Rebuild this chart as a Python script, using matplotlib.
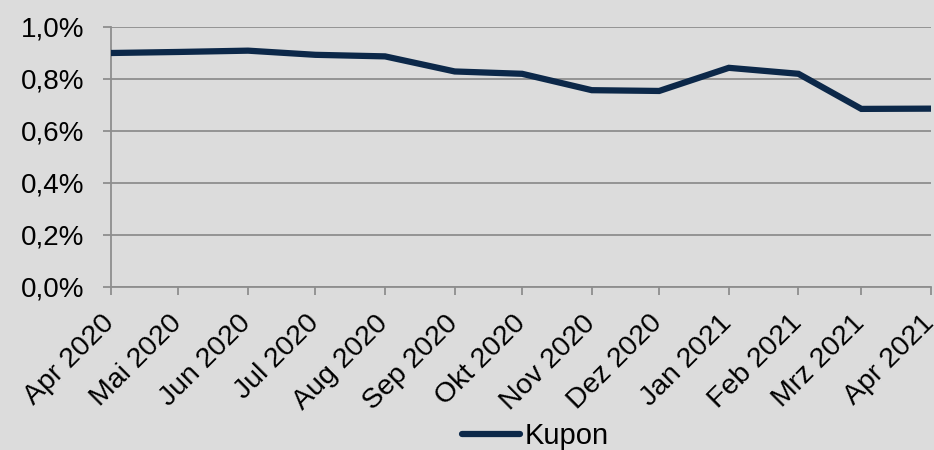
import matplotlib
matplotlib.use("Agg")
import matplotlib.pyplot as plt
import matplotlib.transforms as mtransforms
from matplotlib.ticker import FuncFormatter
import pandas as pd

# Monatswerte (Kupon in %)
months = ["2020-04-01", "2020-05-01", "2020-06-01", "2020-07-01", "2020-08-01",
          "2020-09-01", "2020-10-01", "2020-11-01", "2020-12-01", "2021-01-01",
          "2021-02-01", "2021-03-01", "2021-04-01"]
tick_labels = ["Apr 2020", "Mai 2020", "Jun 2020", "Jul 2020", "Aug 2020",
               "Sep 2020", "Okt 2020", "Nov 2020", "Dez 2020", "Jan 2021",
               "Feb 2021", "Mrz 2021", "Apr 2021"]
kupon = [0.900, 0.904, 0.909, 0.893, 0.887, 0.829, 0.820,
         0.757, 0.754, 0.843, 0.820, 0.685, 0.686]

dates = pd.to_datetime(months)

bg = "#dcdcdc"
grid_col = "#8e8e8e"
line_col = "#0c2849"

plt.rcParams["font.family"] = ["Liberation Sans", "DejaVu Sans"]

fig = plt.figure(figsize=(9.34, 4.5), dpi=100, facecolor=bg)
ax = fig.add_axes([111 / 934, 1 - 287 / 450, 820 / 934, 260 / 450])
ax.set_facecolor(bg)

ax.plot(dates, kupon, color=line_col, linewidth=4.5, solid_capstyle="round",
        solid_joinstyle="miter", label="Kupon", zorder=3)

ax.set_ylim(0, 1.0)
ax.set_yticks([0, 0.2, 0.4, 0.6, 0.8, 1.0])
ax.yaxis.set_major_formatter(FuncFormatter(lambda v, p: f"{v:.1f}%".replace(".", ",")))
ax.grid(axis="y", color=grid_col, linewidth=1.3)
ax.set_axisbelow(True)

for side in ["top", "right"]:
    ax.spines[side].set_visible(False)
for side in ["left", "bottom"]:
    ax.spines[side].set_color(grid_col)
    ax.spines[side].set_linewidth(1.3)

ax.tick_params(axis="both", colors=grid_col, labelcolor="black", labelsize=20,
               length=6, width=1.3, direction="out")
ax.tick_params(axis="y", pad=13)

ax.set_xlim(dates[0], dates[-1])
ax.set_xticks(dates)
ax.set_xticklabels(tick_labels, rotation=45, ha="right", va="top",
                   rotation_mode="anchor", fontsize=20.5)
# Beschriftungen wie im Original etwas tiefer/links setzen (nach tick_params!)
offset = mtransforms.ScaledTranslation(-10 / 100, -10 / 100, fig.dpi_scale_trans)
for lab in ax.get_xticklabels():
    lab.set_transform(lab.get_transform() + offset)

fig.legend(loc="center", bbox_to_anchor=(535 / 934, 1 - 436 / 450),
           frameon=False, fontsize=21, handlelength=2.0, handletextpad=0.15,
           borderpad=0)

fig.savefig("out.png", dpi=100, facecolor=bg)
